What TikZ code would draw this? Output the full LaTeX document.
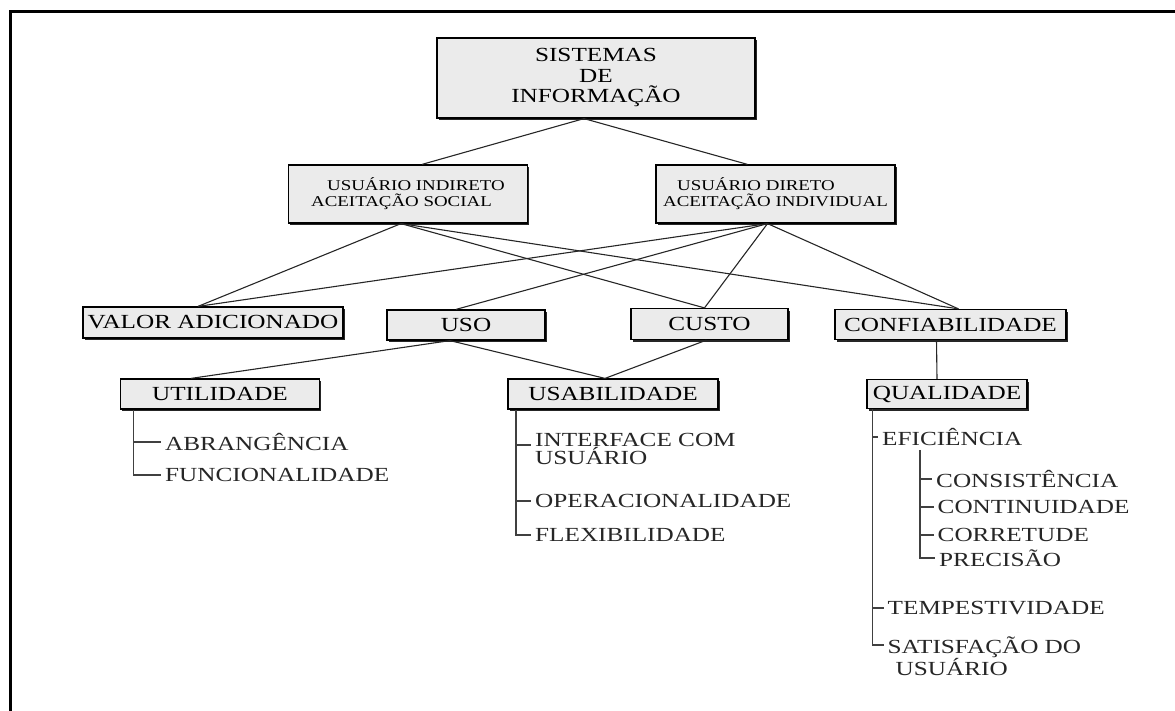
\documentclass[tikz,border=0pt]{standalone}
\usepackage{fontspec}
\setmainfont{Liberation Serif}[FakeStretch=1.26]
\usetikzlibrary{shadows}

\begin{document}
\begin{tikzpicture}[x=1pt, y=-1pt,
  sbox/.style={draw=black, line width=1.2pt, fill=black!8, inner sep=0pt,
    font=\fontsize{20}{20.5}\selectfont, align=center,
    drop shadow={shadow xshift=1.5pt, shadow yshift=-2pt, fill=black!85, opacity=1}},
  ubox/.style={sbox, font=\fontsize{15}{16}\selectfont, align=left},
  itemtxt/.style={anchor=west, inner sep=4pt, font=\fontsize{20}{18}\selectfont,
    align=left, text=black!85},
  link/.style={line width=1.1pt, black!85},
  bar/.style={line width=1.6pt, black!75}]

\useasboundingbox (0,0) rectangle (1175,711);
\draw[line width=3pt] (10,711) -- (10,12) -- (1175,12);

\node[sbox, minimum width=318, minimum height=80] (sis) at (596,78) {SISTEMAS\\DE\\INFORMAÇÃO};

\node[ubox, minimum width=239, minimum height=58] (ui) at (408,194)
  {\hspace*{16pt}USUÁRIO INDIRETO\\ACEITAÇÃO SOCIAL};
\node[ubox, minimum width=239, minimum height=58] (ud) at (775.5,194)
  {\hspace*{14pt}USUÁRIO DIRETO\\ACEITAÇÃO INDIVIDUAL};

\node[sbox, minimum width=260, minimum height=31] (valor) at (213,322.5) {VALOR ADICIONADO};
\node[sbox, minimum width=158, minimum height=30] (uso) at (466,325) {USO};
\node[sbox, minimum width=157, minimum height=31] (custo) at (709.5,324) {CUSTO};
\node[sbox, minimum width=231, minimum height=30] (conf) at (950.5,324.5) {CONFIABILIDADE};

\node[sbox, minimum width=199, minimum height=30] (util) at (220,394) {UTILIDADE};
\node[sbox, minimum width=210, minimum height=30] (usab) at (613,394) {USABILIDADE};
\node[sbox, minimum width=160, minimum height=29] (qual) at (947,394) {QUALIDADE};

\draw[link] ([xshift=-12pt]sis.south) -- ([xshift=14pt]ui.north);
\draw[link] ([xshift=-12pt]sis.south) -- ([xshift=-28pt]ud.north);

\draw[link] ([xshift=-7pt]ui.south) -- ([xshift=-15pt]valor.north);
\draw[link] ([xshift=-7pt]ui.south) -- ([xshift=-5pt]custo.north);
\draw[link] ([xshift=-7pt]ui.south) -- ([xshift=8pt]conf.north);
\draw[link] ([xshift=-8pt]ud.south) -- ([xshift=-15pt]valor.north);
\draw[link] ([xshift=-8pt]ud.south) -- ([xshift=-10pt]uso.north);
\draw[link] ([xshift=-8pt]ud.south) -- ([xshift=-5pt]custo.north);
\draw[link] ([xshift=-8pt]ud.south) -- ([xshift=8pt]conf.north);

\draw[link] ([xshift=-16pt]uso.south) -- ([xshift=-29pt]util.north);
\draw[link] ([xshift=-16pt]uso.south) -- ([xshift=-8pt]usab.north);
\draw[link] ([xshift=-3pt]custo.south) -- ([xshift=-8pt]usab.north);
\draw[link] ([xshift=-14pt]conf.south) -- ([xshift=-10pt]qual.north);

\node[itemtxt] (abr) at (161,442) {ABRANGÊNCIA};
\node[itemtxt] (fun) at (161,475) {FUNCIONALIDADE};
\coordinate (utilbar) at ([xshift=13.5pt]util.south west);
\draw[bar] (utilbar) |- (fun.west);
\draw[bar] (abr.west -| utilbar) -- (abr.west);

\node[itemtxt] (intf) at (531,449) {INTERFACE COM\\USUÁRIO};
\node[itemtxt] (oper) at (531,501) {OPERACIONALIDADE};
\node[itemtxt] (flex) at (531,535) {FLEXIBILIDADE};
\coordinate (usabbar) at ([xshift=8.5pt]usab.south west);
\draw[bar] (usabbar) |- (flex.west);
\draw[bar] ([yshift=4pt]intf.west -| usabbar) -- ([yshift=4pt]intf.west);
\draw[bar] (oper.west -| usabbar) -- (oper.west);

\node[itemtxt] (efi) at (878,437) {EFICIÊNCIA};
\node[itemtxt] (cons) at (932,479) {CONSISTÊNCIA};
\node[itemtxt] (cont) at (933.5,507) {CONTINUIDADE};
\node[itemtxt] (corr) at (933.5,535) {CORRETUDE};
\node[itemtxt] (prec) at (935,558) {PRECISÃO};
\node[itemtxt] (temp) at (883.5,608) {TEMPESTIVIDADE};
\node[itemtxt] (sat) at (883.5,656) {SATISFAÇÃO DO\\\hspace*{8pt}USUÁRIO};
\coordinate (qualbar) at ([xshift=6pt]qual.south west);
\coordinate (efibar) at ([xshift=42pt]efi.south west);
\draw[bar] (qualbar) |- ([yshift=11pt]sat.west);
\draw[bar] (efi.west -| qualbar) -- (efi.west);
\draw[bar] (temp.west -| qualbar) -- (temp.west);
\draw[bar] (efibar) |- (prec.west);
\draw[bar] (cons.west -| efibar) -- (cons.west);
\draw[bar] (cont.west -| efibar) -- (cont.west);
\draw[bar] (corr.west -| efibar) -- (corr.west);

\end{tikzpicture}
\end{document}
